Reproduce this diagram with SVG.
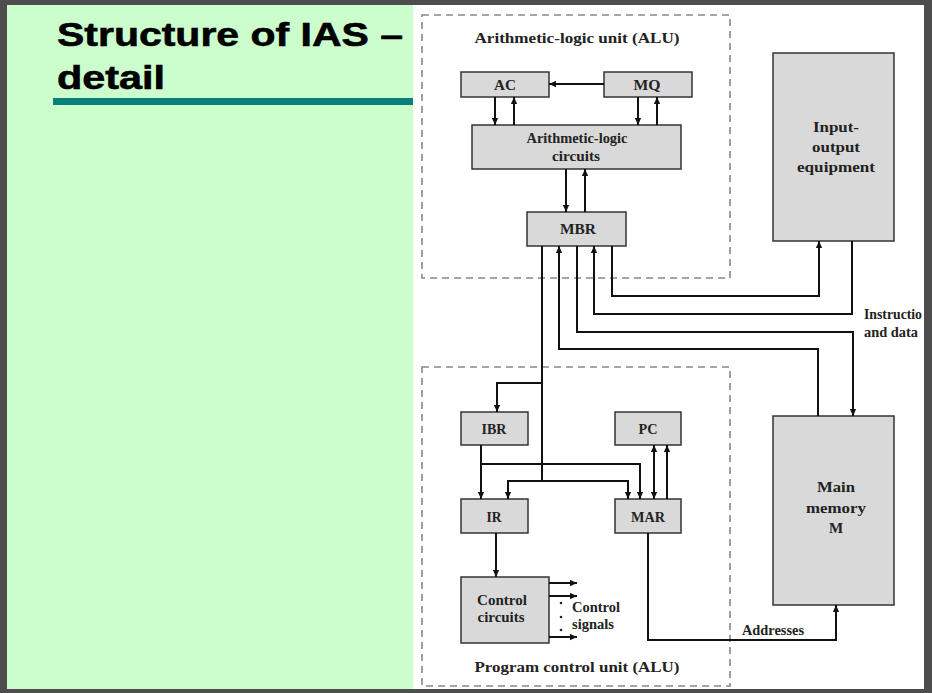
<svg xmlns="http://www.w3.org/2000/svg" width="932" height="693" viewBox="0 0 932 693">
<defs>
<style>
.box{fill:#d9d9d9;stroke:#333;stroke-width:1.5}
.dash{fill:none;stroke:#888;stroke-width:1.6;stroke-dasharray:7 5}
.t{font-family:"Liberation Serif","Times New Roman",serif;font-weight:bold;font-size:15px;fill:#222;text-anchor:middle}
.ts{font-family:"Liberation Serif","Times New Roman",serif;font-weight:bold;font-size:14px;fill:#222}
.c path{fill:none;stroke:#111;stroke-width:2}
.title{font-family:"Liberation Sans",Arial,sans-serif;font-weight:bold;font-size:33px;fill:#000;stroke:#000;stroke-width:0.6}
</style>
<marker id="ah" viewBox="0 0 10 10" refX="10" refY="5" markerWidth="8" markerHeight="7" markerUnits="userSpaceOnUse" orient="auto-start-reverse">
<path d="M0,0.5 L10,5 L0,9.5 z" fill="#111"/>
</marker>
</defs>
<rect x="0" y="0" width="932" height="693" fill="#4d4d4d"/>
<rect x="7" y="5" width="917" height="684" fill="#fff"/>
<rect x="7" y="5" width="406" height="684" fill="#ccfdcc"/>
<g id="title">
<text class="title" x="57" y="46" textLength="346" lengthAdjust="spacingAndGlyphs">Structure of IAS –</text>
<text class="title" x="57" y="89" textLength="108" lengthAdjust="spacingAndGlyphs">detail</text>
<rect x="53" y="98" width="360" height="7" fill="#0b7f7a"/>
</g>
<g id="alu">
<rect class="dash" x="422" y="15" width="308" height="263"/>
<text class="t" x="577" y="43" textLength="205" lengthAdjust="spacingAndGlyphs">Arithmetic-logic unit (ALU)</text>
</g>
<g id="pcu">
<rect class="dash" x="422" y="367" width="308" height="319"/>
<text class="t" x="577" y="672" textLength="205" lengthAdjust="spacingAndGlyphs">Program control unit (ALU)</text>
</g>
<g id="ac"><rect class="box" x="461" y="72" width="88" height="25"/><text class="t" x="505" y="90" textLength="22" lengthAdjust="spacingAndGlyphs">AC</text></g>
<g id="mq"><rect class="box" x="604" y="72" width="88" height="25"/><text class="t" x="647" y="90" textLength="27" lengthAdjust="spacingAndGlyphs">MQ</text></g>
<g id="alc"><rect class="box" x="472" y="125" width="209" height="44"/><text class="t" x="577" y="143" textLength="101" lengthAdjust="spacingAndGlyphs">Arithmetic-logic</text><text class="t" x="576" y="161" textLength="48" lengthAdjust="spacingAndGlyphs">circuits</text></g>
<g id="mbr"><rect class="box" x="527" y="212" width="99" height="34"/><text class="t" x="578" y="234" textLength="36" lengthAdjust="spacingAndGlyphs">MBR</text></g>
<g id="io"><rect class="box" x="773" y="53" width="121" height="188"/><text class="t" x="836" y="132" font-size="17" textLength="46" lengthAdjust="spacingAndGlyphs">Input-</text><text class="t" x="836" y="152" font-size="17" textLength="48" lengthAdjust="spacingAndGlyphs">output</text><text class="t" x="836" y="172" font-size="17" textLength="78" lengthAdjust="spacingAndGlyphs">equipment</text></g>
<g id="mem"><rect class="box" x="773" y="416" width="121" height="189"/><text class="t" x="836" y="492" font-size="17" textLength="38" lengthAdjust="spacingAndGlyphs">Main</text><text class="t" x="836" y="513" font-size="17" textLength="60" lengthAdjust="spacingAndGlyphs">memory</text><text class="t" x="836" y="533" font-size="17">M</text></g>
<g id="ibr"><rect class="box" x="461" y="412" width="67" height="33"/><text class="t" x="494" y="434" textLength="25" lengthAdjust="spacingAndGlyphs">IBR</text></g>
<g id="pc"><rect class="box" x="615" y="412" width="66" height="33"/><text class="t" x="648" y="434" textLength="19" lengthAdjust="spacingAndGlyphs">PC</text></g>
<g id="ir"><rect class="box" x="461" y="499" width="67" height="34"/><text class="t" x="494" y="522" textLength="15" lengthAdjust="spacingAndGlyphs">IR</text></g>
<g id="mar"><rect class="box" x="615" y="499" width="66" height="34"/><text class="t" x="648" y="522" textLength="34" lengthAdjust="spacingAndGlyphs">MAR</text></g>
<g id="cc"><rect class="box" x="461" y="577" width="88" height="66"/><text class="t" x="502" y="605" textLength="50" lengthAdjust="spacingAndGlyphs">Control</text><text class="t" x="501" y="622" textLength="47" lengthAdjust="spacingAndGlyphs">circuits</text></g>
<g id="connectors" class="c">
<path d="M604,84 H549" marker-end="url(#ah)"/>
<path d="M495,97 V125" marker-end="url(#ah)"/>
<path d="M514,125 V97" marker-end="url(#ah)"/>
<path d="M638,97 V125" marker-end="url(#ah)"/>
<path d="M657,125 V97" marker-end="url(#ah)"/>
<path d="M566,169 V212" marker-end="url(#ah)"/>
<path d="M585,212 V169" marker-end="url(#ah)"/>
<path d="M612,246 V296 H819 V241" marker-end="url(#ah)"/>
<path d="M852,241 V314 H594 V246" marker-end="url(#ah)"/>
<path d="M577,246 V332 H853 V416" marker-end="url(#ah)"/>
<path d="M818,416 V349 H559 V246" marker-end="url(#ah)"/>
<path d="M542,246 V383 H497 V412" marker-end="url(#ah)"/>
<path d="M542,383 V481 H508 V499" marker-end="url(#ah)"/>
<path d="M542,481 H628 V499" marker-end="url(#ah)"/>
<path d="M481,445 V499" marker-end="url(#ah)"/>
<path d="M481,464 H640 V499" marker-end="url(#ah)"/>
<path d="M654,445 V499" marker-start="url(#ah)" marker-end="url(#ah)"/>
<path d="M667,499 V445" marker-end="url(#ah)"/>
<path d="M496,533 V577" marker-end="url(#ah)"/>
<path d="M549,583 H577" marker-end="url(#ah)"/>
<path d="M549,596 H577" marker-end="url(#ah)"/>
<path d="M549,637 H577" marker-end="url(#ah)"/>
<path d="M648,533 V640 H836 V605" marker-end="url(#ah)"/>
</g>
<g id="labels">
<circle cx="561" cy="603" r="1.3" fill="#222"/>
<circle cx="561" cy="617" r="1.3" fill="#222"/>
<circle cx="561" cy="630" r="1.3" fill="#222"/>
<text class="ts" x="572" y="612" textLength="48" lengthAdjust="spacingAndGlyphs">Control</text>
<text class="ts" x="572" y="629" textLength="42" lengthAdjust="spacingAndGlyphs">signals</text>
<text class="ts" x="742" y="635" textLength="62" lengthAdjust="spacingAndGlyphs">Addresses</text>
<text class="ts" x="864" y="319" textLength="58" lengthAdjust="spacingAndGlyphs">Instructio</text>
<text class="ts" x="864" y="337" textLength="54" lengthAdjust="spacingAndGlyphs">and data</text>
</g>
<rect x="924" y="0" width="8" height="693" fill="#4d4d4d"/>
</svg>
